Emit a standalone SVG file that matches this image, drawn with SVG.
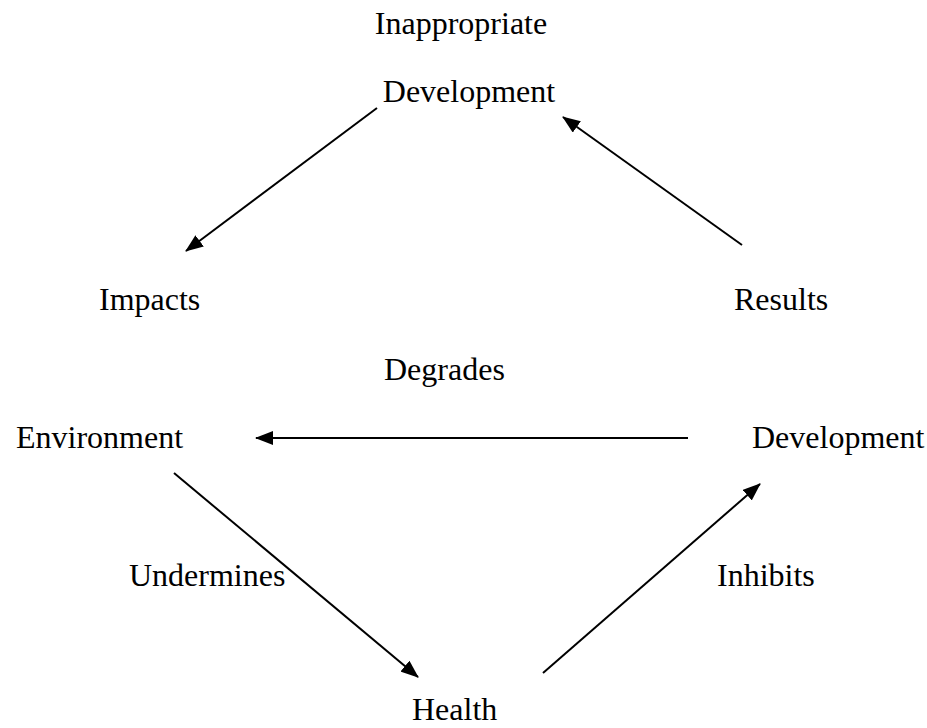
<svg xmlns="http://www.w3.org/2000/svg" width="927" height="728" viewBox="0 0 927 728">
<defs>
<style>
.t{font-family:"Liberation Serif","Times New Roman",serif;font-size:32px;fill:#000}
.c line{stroke:#000;stroke-width:2;fill:none;marker-end:url(#ah)}
</style>
<marker id="ah" markerWidth="18" markerHeight="14" refX="17" refY="7" orient="auto" markerUnits="userSpaceOnUse">
<path d="M0,0 L18,7 L0,14 Z" fill="#000"/>
</marker>
</defs>
<rect width="927" height="728" fill="#fff"/>
<g id="inappropriate-development">
<text class="t" x="461" y="34" text-anchor="middle">Inappropriate</text>
<text class="t" x="469" y="102" text-anchor="middle">Development</text>
</g>
<g id="impacts"><text class="t" x="99" y="310">Impacts</text></g>
<g id="results"><text class="t" x="734" y="310">Results</text></g>
<g id="degrades"><text class="t" x="384" y="380">Degrades</text></g>
<g id="environment"><text class="t" x="16" y="448">Environment</text></g>
<g id="development"><text class="t" x="752" y="448">Development</text></g>
<g id="undermines"><text class="t" x="129" y="586">Undermines</text></g>
<g id="inhibits"><text class="t" x="717" y="586">Inhibits</text></g>
<g id="health"><text class="t" x="412" y="720">Health</text></g>
<g class="c" id="connectors">
<line x1="377" y1="108" x2="186" y2="251"/>
<line x1="742" y1="245" x2="563" y2="117"/>
<line x1="688" y1="438" x2="256" y2="438"/>
<line x1="174" y1="473" x2="418" y2="677"/>
<line x1="543" y1="673" x2="760" y2="484"/>
</g>
</svg>
